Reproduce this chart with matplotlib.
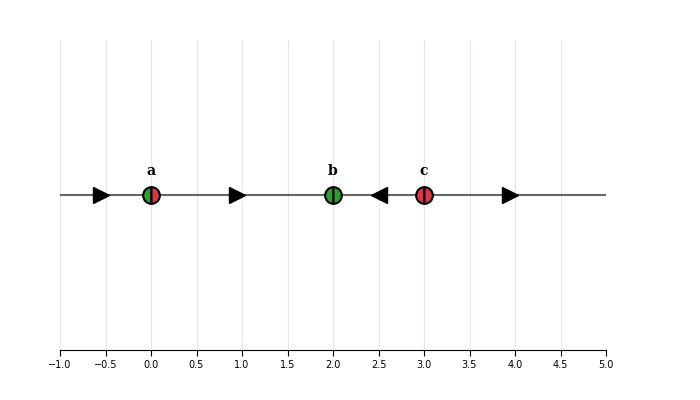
import matplotlib
matplotlib.use("Agg")
import matplotlib.pyplot as plt
import numpy as np

eq_x = [0, 2, 3]
eq_labels = ["a", "b", "c"]
eq_left = ["#2ca02c", "#2ca02c", "#dc3545"]
eq_right = ["#dc3545", "#2ca02c", "#dc3545"]
arrow_x = [-0.55, 0.95, 2.5, 3.95]
arrow_dir = [1, 1, -1, 1]
ticks = np.arange(-1.0, 5.01, 0.5)

fig = plt.figure(figsize=(7, 4), dpi=100)
ax = fig.add_axes([60/700, 50/400, 546/700, 310/400])
ax.set_xlim(-1, 5)
ax.set_ylim(0, 1)
ax.set_xticks(ticks)
ax.set_xticklabels([f"{t:.1f}".replace("-", "−") for t in ticks], fontsize=7)
ax.set_yticks([])
for s in ["top", "right", "left"]:
    ax.spines[s].set_visible(False)
ax.grid(axis="x", color="#e3e6ee", linewidth=0.8)
ax.tick_params(axis="x", length=4, width=0.8)

ax.plot([-1, 5], [0.5, 0.5], color="#666666", linewidth=1.5, zorder=2)
for x, d in zip(arrow_x, arrow_dir):
    ax.plot([x], [0.5], marker=">" if d > 0 else "<", markersize=11, color="black", zorder=3, linestyle="none")
for x, lab, cl, cr in zip(eq_x, eq_labels, eq_left, eq_right):
    ax.plot([x], [0.5], marker="o", markersize=12, fillstyle="left", markerfacecolor=cl,
            markerfacecoloralt=cr, markeredgecolor="black", markeredgewidth=1.5, zorder=4, linestyle="none")
    ax.text(x, 0.555, lab, ha="center", va="bottom", fontsize=10, fontweight="bold", family="DejaVu Serif")

fig.savefig("out.png", dpi=100)
